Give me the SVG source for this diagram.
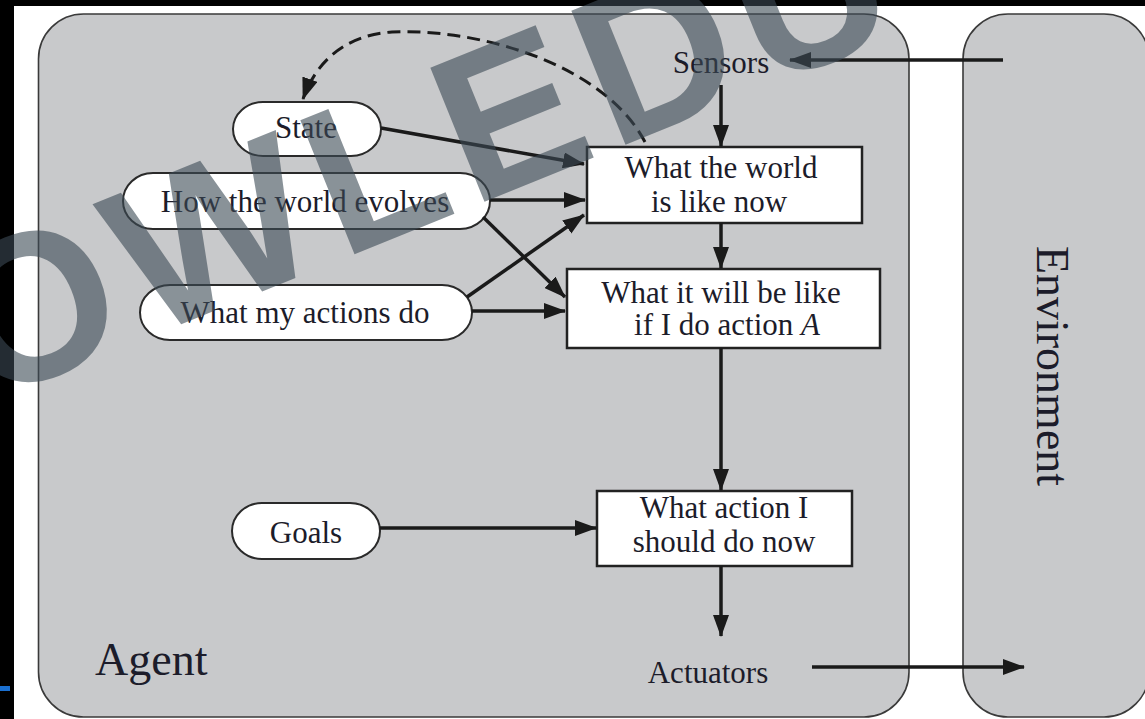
<svg xmlns="http://www.w3.org/2000/svg" width="1145" height="719" viewBox="0 0 1145 719">
<style>
.panel{fill:#c8c9cb;stroke:#3a3a3a;stroke-width:1.6}
.pill{fill:#ffffff;stroke:#2a2a2a;stroke-width:2}
.box{fill:#ffffff;stroke:#222;stroke-width:2.5}
.t{font-family:"Liberation Serif","Times New Roman",serif;font-size:31px;fill:#1c1c2a;text-anchor:middle}
.big{font-family:"Liberation Serif","Times New Roman",serif;font-size:46px;fill:#1c1c2a}
.c{fill:none;stroke:#1a1a1a;stroke-width:3.5}
.d{fill:none;stroke:#1a1a1a;stroke-width:3;stroke-dasharray:13 7}
.wm{font-family:"Liberation Sans",Arial,sans-serif;font-weight:bold;font-size:210px;fill:#3c4a55;opacity:0.6;letter-spacing:12px}
</style>
<defs>
<marker id="ah" viewBox="0 0 22 16" refX="21" refY="8" markerWidth="22" markerHeight="16" markerUnits="userSpaceOnUse" orient="auto">
<path d="M0,0 L22,8 L0,16 Z" fill="#1a1a1a"/>
</marker>
</defs>
<rect x="0" y="0" width="1145" height="719" fill="#ffffff"/>
<rect x="0" y="0" width="1145" height="6" fill="#000"/>
<rect x="0" y="0" width="14" height="719" fill="#000"/>
<rect x="0" y="686" width="10" height="5" fill="#1a6fd0"/>

<g id="agent">
<rect class="panel" x="38.5" y="14" width="870.5" height="703" rx="45" ry="45"/>
<text class="big" x="95" y="675">Agent</text>
</g>
<g id="environment">
<rect class="panel" x="963" y="14" width="186" height="703" rx="45" ry="45"/>
<text class="big" transform="translate(1037,366) rotate(90)" text-anchor="middle">Environment</text>
</g>

<g id="sensors"><text class="t" x="721" y="73">Sensors</text></g>
<g id="actuators"><text class="t" x="708" y="683">Actuators</text></g>

<g id="state">
<rect class="pill" x="233" y="102" width="148" height="54" rx="30" ry="27"/>
<text class="t" x="306" y="138">State</text>
</g>
<g id="how-world-evolves">
<rect class="pill" x="123" y="173" width="367" height="56" rx="30" ry="28"/>
<text class="t" x="305" y="212">How the world evolves</text>
</g>
<g id="what-my-actions-do">
<rect class="pill" x="140" y="285" width="332" height="55" rx="30" ry="27.5"/>
<text class="t" x="305" y="323">What my actions do</text>
</g>
<g id="goals">
<rect class="pill" x="232" y="503" width="148" height="56" rx="30" ry="28"/>
<text class="t" x="306" y="543">Goals</text>
</g>

<g id="world-now">
<rect class="box" x="587" y="147" width="275" height="76"/>
<text class="t" x="721" y="178">What the world</text>
<text class="t" x="719" y="212">is like now</text>
</g>
<g id="will-be-like">
<rect class="box" x="567" y="269" width="313" height="79"/>
<text class="t" x="721" y="303">What it will be like</text>
<text class="t" x="727" y="335">if I do action <tspan font-style="italic">A</tspan></text>
</g>
<g id="action-now">
<rect class="box" x="597" y="491" width="255" height="75"/>
<text class="t" x="724" y="518">What action I</text>
<text class="t" x="724" y="552">should do now</text>
</g>

<g id="connectors">
<path class="c" d="M1003,60 L790,60" marker-end="url(#ah)"/>
<path class="c" d="M721,85 L721,146" marker-end="url(#ah)"/>
<path class="c" d="M381,128 L584,164" marker-end="url(#ah)"/>
<path class="c" d="M490,200 L585,200" marker-end="url(#ah)"/>
<path class="c" d="M483,217 L565,297" marker-end="url(#ah)"/>
<path class="c" d="M467,297 L584,215" marker-end="url(#ah)"/>
<path class="c" d="M472,311 L565,311" marker-end="url(#ah)"/>
<path class="c" d="M721,223 L721,268" marker-end="url(#ah)"/>
<path class="c" d="M721,348 L721,490" marker-end="url(#ah)"/>
<path class="c" d="M380,528 L596,528" marker-end="url(#ah)"/>
<path class="c" d="M721,566 L721,636" marker-end="url(#ah)"/>
<path class="c" d="M812,667 L1024,667" marker-end="url(#ah)"/>
<path class="d" d="M645,142 C605,65 480,28 392,32 C345,35 316,62 303,99" marker-end="url(#ah)"/>
</g>

<text class="wm" transform="translate(-16,404) rotate(-22)">OWLEDU</text>
</svg>
